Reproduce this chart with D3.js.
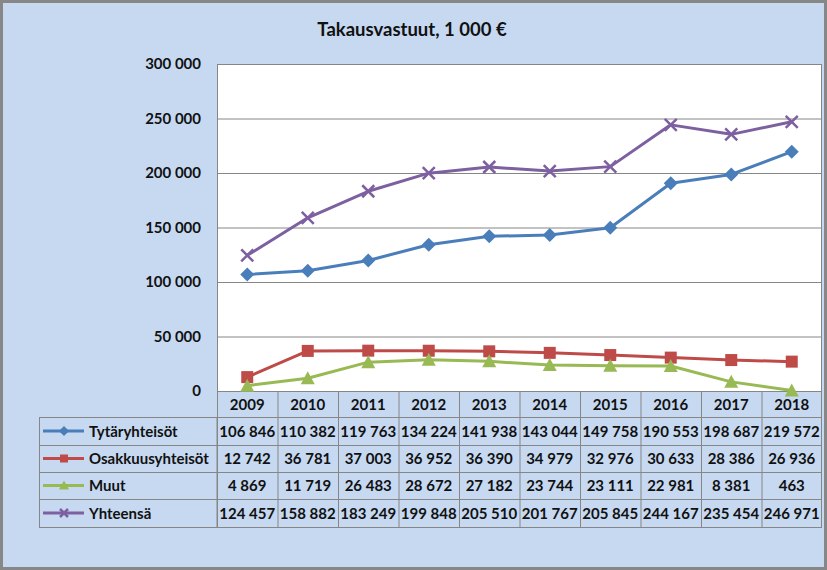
<!DOCTYPE html>
<html><head><meta charset="utf-8">
<script src="https://cdn.jsdelivr.net/npm/d3@7"></script>
<style>body{margin:0;background:#fff}svg{display:block}</style>
</head><body>
<script>
const years = ["2009","2010","2011","2012","2013","2014","2015","2016","2017","2018"];
const tytar = [106846,110382,119763,134224,141938,143044,149758,190553,198687,219572];
const osakkuus = [12742,36781,37003,36952,36390,34979,32976,30633,28386,26936];
const muut = [4869,11719,26483,28672,27182,23744,23111,22981,8381,463];
const yhteensa = [124457,158882,183249,199848,205510,201767,205845,244167,235454,246971];
const yTicks = [0,50000,100000,150000,200000,250000,300000];
const title = "Takausvastuut, 1 000 €";
const seriesNames = ["Tytäryhteisöt","Osakkuusyhteisöt","Muut","Yhteensä"];
const seriesColors = ["#4A7EBB","#BE4B48","#98B954","#7D60A0"];
const seriesMarkers = ["diamond","square","triangle","x"];
const seriesData = [tytar, osakkuus, muut, yhteensa];

const W = 827, H = 570;
const pL = 217, pR = 822, pT = 64, pB = 391;
const font = "Lato, 'Liberation Sans', Arial, sans-serif";
const fs = 15;

const svg = d3.select("body").append("svg").attr("width", W).attr("height", H);
svg.append("rect").attr("x",1.5).attr("y",1.5).attr("width",W-3).attr("height",H-3)
  .attr("fill","#C6D9F1").attr("stroke","#878787").attr("stroke-width",3);

svg.append("text").attr("x",412).attr("y",35.5).attr("text-anchor","middle")
  .attr("font-family",font).attr("font-weight","bold").attr("font-size",18.5)
  .attr("fill","#111").text(title);

const x = d3.scaleBand().domain(years).range([pL, pR]);
const y = d3.scaleLinear().domain([0,300000]).range([pB, pT]);
const fmt = v => d3.format(",")(v).replace(/,/g, " ");

svg.append("rect").attr("x",pL).attr("y",pT).attr("width",pR-pL).attr("height",pB-pT)
  .attr("fill","#fff");

const yAxis = d3.axisLeft(y).tickValues(yTicks).tickSize(0).tickPadding(16).tickFormat(fmt);
const ga = svg.append("g").attr("transform",`translate(${pL},0)`).call(yAxis);
ga.select(".domain").remove();
ga.selectAll("text").attr("font-family",font).attr("font-weight","bold").attr("font-size",fs).attr("fill","#111");

svg.append("g").selectAll("line").data(yTicks.filter(d=>d>0)).join("line")
  .attr("x1",pL).attr("x2",pR).attr("y1",d=>y(d)+0.5).attr("y2",d=>y(d)+0.5)
  .attr("stroke","#868686").attr("stroke-width",1);
svg.append("line").attr("x1",pL+0.5).attr("x2",pL+0.5).attr("y1",pT).attr("y2",pB).attr("stroke","#868686");
svg.append("line").attr("x1",pR-0.5).attr("x2",pR-0.5).attr("y1",pT).attr("y2",pB).attr("stroke","#868686");

// table
const rowTops = [391,417,445,472,499,527];
const tg = svg.append("g");
tg.append("rect").attr("x",pL+0.5).attr("y",rowTops[0]+0.5).attr("width",pR-pL-1).attr("height",rowTops[5]-rowTops[0])
  .attr("fill","none").attr("stroke","#868686");
tg.append("rect").attr("x",39.5).attr("y",rowTops[1]+0.5).attr("width",pL-39.5).attr("height",rowTops[5]-rowTops[1])
  .attr("fill","none").attr("stroke","#868686");
rowTops.slice(1,5).forEach(r=>{
  tg.append("line").attr("x1",39.5).attr("x2",pR).attr("y1",r+0.5).attr("y2",r+0.5).attr("stroke","#868686");
});
years.forEach(yr=>{
  tg.append("line").attr("x1",x(yr)+0.5).attr("x2",x(yr)+0.5).attr("y1",rowTops[0]).attr("y2",rowTops[5]).attr("stroke","#868686");
});
tg.selectAll("text.yr").data(years).join("text").attr("class","yr")
  .attr("x",d=>x(d)+x.bandwidth()/2).attr("y",(rowTops[0]+rowTops[1])/2+5.5)
  .attr("text-anchor","middle").attr("font-family",font).attr("font-weight","bold").attr("font-size",fs).attr("fill","#111")
  .text(d=>d);

function marker(g, type, color, size){
  const s = size/2;
  if(type==="diamond") g.append("path").attr("d",`M0,${-s-1}L${s+1},0L0,${s+1}L${-s-1},0Z`).attr("fill",color);
  else if(type==="square") g.append("rect").attr("x",-s).attr("y",-s).attr("width",size).attr("height",size).attr("fill",color);
  else if(type==="triangle") g.append("path").attr("d",`M0,${-s-1}L${s+1},${s}L${-s-1},${s}Z`).attr("fill",color);
  else g.append("path").attr("d",`M${-s},${-s}L${s},${s}M${-s},${s}L${s},${-s}`).attr("stroke",color).attr("stroke-width",2.5);
}

seriesData.forEach((data,i)=>{
  const r0 = rowTops[i+1], r1 = rowTops[i+2];
  const cy = (r0+r1)/2;
  tg.selectAll(null).data(data).join("text")
    .attr("x",(d,j)=>x(years[j])+x.bandwidth()/2).attr("y",cy+5.5)
    .attr("text-anchor","middle").attr("font-family",font).attr("font-weight","bold").attr("font-size",fs).attr("fill","#111")
    .text(d=>fmt(d));
  tg.append("line").attr("x1",43).attr("x2",84).attr("y1",cy).attr("y2",cy).attr("stroke",seriesColors[i]).attr("stroke-width",3);
  marker(tg.append("g").attr("transform",`translate(64,${cy})`), seriesMarkers[i], seriesColors[i], 8);
  tg.append("text").attr("x",89).attr("y",cy+5.5).attr("font-family",font).attr("font-weight","bold").attr("font-size",fs)
    .attr("fill","#111").text(seriesNames[i]);
});

// lines
const line = d3.line().x((d,j)=>x(years[j])+x.bandwidth()/2).y(d=>y(d));
[3,0,1,2].forEach(i=>{
  const g = svg.append("g");
  g.append("path").attr("d",line(seriesData[i])).attr("fill","none").attr("stroke",seriesColors[i]).attr("stroke-width",3).attr("stroke-linejoin","round");
  seriesData[i].forEach((v,j)=>{
    marker(g.append("g").attr("transform",`translate(${x(years[j])+x.bandwidth()/2},${y(v)})`), seriesMarkers[i], seriesColors[i], 12);
  });
});
</script>
</body></html>
